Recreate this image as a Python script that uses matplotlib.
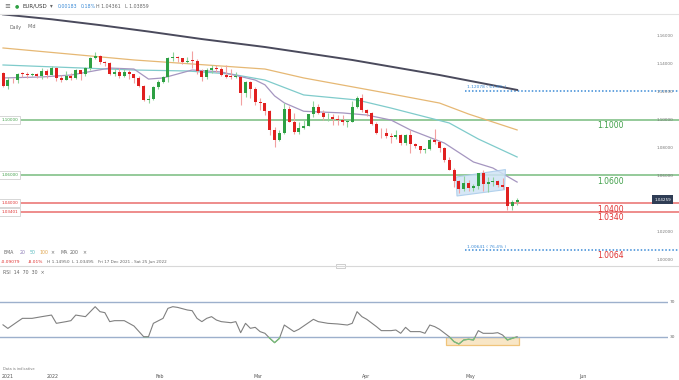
import numpy as np
import matplotlib.pyplot as plt
from matplotlib.patches import Polygon, Rectangle
from matplotlib.transforms import blended_transform_factory
from matplotlib.lines import Line2D

# daily candles, Fri 17 Dec 2021 .. Mon 16 May 2022 (trading-day index = position)
opens = [1.1331, 1.1240, 1.1283, 1.1281, 1.1329, 1.1327, 1.1320, 1.1328, 1.1312, 1.1350, 1.1323,
         1.1370, 1.1299, 1.1287, 1.1312, 1.1297, 1.1359, 1.1326, 1.1368, 1.1440, 1.1454, 1.1412,
         1.1408, 1.1324, 1.1345, 1.1312, 1.1344, 1.1326, 1.1301, 1.1243, 1.1144, 1.1146,
         1.1234, 1.1272, 1.1304, 1.1440, 1.1451, 1.1441, 1.1415, 1.1424, 1.1421, 1.1349, 1.1306,
         1.1358, 1.1372, 1.1361, 1.1321, 1.1309, 1.1306, 1.1308, 1.1190, 1.1271,
         1.1220, 1.1126, 1.1121, 1.1062, 1.0929, 1.0855, 1.0905, 1.1075, 1.0984, 1.0912, 1.0942,
         1.0956, 1.1037, 1.1094, 1.1051, 1.1016, 1.1017, 1.1005, 1.0996, 1.0984, 1.0985, 1.1090, 1.1158,
         1.1067, 1.1045, 1.0972, 1.0903, 1.0902, 1.0879, 1.0877, 1.0888, 1.0830, 1.0891, 1.0828,
         1.0808, 1.0780, 1.0790, 1.0851, 1.0838, 1.0797, 1.0713, 1.0640, 1.0560, 1.0500,
         1.0545, 1.0510, 1.0525, 1.0620, 1.0540, 1.0550, 1.0560, 1.0530, 1.0515, 1.0380, 1.04076]
highs = [1.1345, 1.1305, 1.1302, 1.1336, 1.1341, 1.1340, 1.1335, 1.1333, 1.1369, 1.1360, 1.1386,
         1.1376, 1.1321, 1.1347, 1.1333, 1.1365, 1.1359, 1.1375, 1.1446, 1.1482, 1.1465, 1.1420,
         1.1412, 1.1370, 1.1369, 1.1363, 1.1357, 1.1329, 1.1310, 1.1249, 1.1174, 1.1243,
         1.1283, 1.1316, 1.1450, 1.1483, 1.1453, 1.1445, 1.1448, 1.1495, 1.1433, 1.1365, 1.1368,
         1.1395, 1.1395, 1.1381, 1.1395, 1.1360, 1.1343, 1.1315, 1.1274, 1.1275,
         1.1233, 1.1152, 1.1121, 1.1069, 1.0946, 1.0925, 1.1121, 1.1095, 1.1044, 1.0980, 1.1005,
         1.1040, 1.1137, 1.1110, 1.1070, 1.1045, 1.1040, 1.1035, 1.1030, 1.0997, 1.1137, 1.1170, 1.1185,
         1.1076, 1.1052, 1.0985, 1.0938, 1.0937, 1.0905, 1.0922, 1.0900, 1.0900, 1.0925, 1.0835,
         1.0813, 1.0800, 1.0870, 1.0936, 1.0850, 1.0805, 1.0730, 1.0655, 1.0567, 1.0593,
         1.0570, 1.0540, 1.0620, 1.0641, 1.0590, 1.0590, 1.0570, 1.0578, 1.0520, 1.0420, 1.04361]
lows = [1.1235, 1.1222, 1.1262, 1.1262, 1.1305, 1.1302, 1.1310, 1.1297, 1.1295, 1.1300, 1.1320,
        1.1280, 1.1273, 1.1282, 1.1285, 1.1291, 1.1284, 1.1315, 1.1355, 1.1438, 1.1397, 1.1385,
        1.1318, 1.1315, 1.1300, 1.1307, 1.1289, 1.1264, 1.1235, 1.1136, 1.1121, 1.1140,
        1.1219, 1.1263, 1.1272, 1.1419, 1.1413, 1.1398, 1.1405, 1.1373, 1.1330, 1.1280, 1.1290,
        1.1336, 1.1340, 1.1312, 1.1300, 1.1289, 1.1296, 1.1106, 1.1160, 1.1155,
        1.1105, 1.1070, 1.1030, 1.0893, 1.0806, 1.0850, 1.0900, 1.0980, 1.0900, 1.0900, 1.0930,
        1.0955, 1.1020, 1.1040, 1.0995, 1.0988, 1.0965, 1.0960, 1.0965, 1.0945, 1.0985, 1.1080, 1.1055,
        1.1028, 1.0960, 1.0900, 1.0870, 1.0870, 1.0835, 1.0860, 1.0820, 1.0815, 1.0757, 1.0800,
        1.0760, 1.0757, 1.0780, 1.0825, 1.0770, 1.0697, 1.0635, 1.0515, 1.0470, 1.0490,
        1.0490, 1.0490, 1.0505, 1.0490, 1.0483, 1.0527, 1.0520, 1.0500, 1.0350, 1.0350, 1.03859]
closes = [1.1240, 1.1283, 1.1281, 1.1329, 1.1327, 1.1320, 1.1328, 1.1312, 1.1350, 1.1323, 1.1370,
          1.1299, 1.1287, 1.1312, 1.1297, 1.1359, 1.1326, 1.1368, 1.1440, 1.1454, 1.1412, 1.1408,
          1.1324, 1.1345, 1.1312, 1.1344, 1.1326, 1.1301, 1.1243, 1.1144, 1.1146, 1.1234,
          1.1272, 1.1304, 1.1440, 1.1451, 1.1441, 1.1415, 1.1424, 1.1421, 1.1349, 1.1306, 1.1358,
          1.1372, 1.1361, 1.1321, 1.1309, 1.1306, 1.1308, 1.1190, 1.1271, 1.1220,
          1.1126, 1.1121, 1.1062, 1.0929, 1.0855, 1.0905, 1.1075, 1.0984, 1.0912, 1.0942, 1.0956,
          1.1037, 1.1094, 1.1051, 1.1016, 1.1017, 1.1005, 1.0996, 1.0984, 1.0985, 1.1090, 1.1158, 1.1067,
          1.1045, 1.0972, 1.0903, 1.0902, 1.0879, 1.0877, 1.0888, 1.0830, 1.0891, 1.0828, 1.0808,
          1.0780, 1.0790, 1.0851, 1.0838, 1.0797, 1.0713, 1.0640, 1.0560, 1.0500, 1.0545,
          1.0510, 1.0525, 1.0620, 1.0540, 1.0550, 1.0560, 1.0530, 1.0515, 1.0380, 1.04076, 1.04259]

# moving averages (day index, price)
ema20_day = [0, 8, 14, 22, 27, 30, 33, 39, 45, 52, 54, 56, 58, 62, 70, 75, 80, 84, 91, 97, 101, 106]
ema20_val = [1.1299, 1.1306, 1.1320, 1.1370, 1.1363, 1.1291, 1.1299, 1.1356, 1.1342, 1.1284, 1.1250,
             1.1170, 1.1120, 1.1060, 1.1048, 1.1033, 1.0997, 1.0926, 1.0832, 1.0696, 1.0653, 1.0552]
ema50_day = [0, 27, 38, 47, 54, 62, 73, 80, 92, 98, 106]
ema50_val = [1.1392, 1.1356, 1.1349, 1.1327, 1.1284, 1.1177, 1.1141, 1.1083, 1.0976, 1.0861, 1.0732]
ema100_day = [0, 27, 54, 62, 79, 90, 96, 106]
ema100_val = [1.1514, 1.1428, 1.1363, 1.1299, 1.1191, 1.1119, 1.1040, 1.0926]
ma200_day = [0, 10, 20, 30, 41, 54, 72, 90, 106]
ma200_val = [1.1755, 1.1720, 1.1678, 1.1632, 1.1578, 1.1521, 1.1428, 1.1320, 1.1213]

# RSI(14)
rsi_day = [0, 1, 3, 4, 6, 8, 10, 11, 13, 14, 15, 17, 19, 20, 21, 22, 23, 25, 27, 29, 30, 31, 33, 34,
           35, 36, 38, 39, 40, 41, 42, 43, 44, 45, 47, 48, 49, 50, 51, 52, 53, 54, 55, 56, 57, 58,
           60, 61, 64, 65, 67, 69, 71, 72, 73, 74, 75, 77, 78, 80, 81, 82, 83, 84, 86, 87, 88, 89,
           90, 92, 93, 94, 95, 96, 97, 98, 99, 101, 102, 103, 104, 105, 106]
rsi_val = [44, 40, 47.6, 51.3, 51.3, 53.2, 55, 45.7, 47.6, 48.7, 55, 53.2, 64.4, 58.8, 57.7, 47.6,
           48.7, 48.7, 42.7, 30.7, 30.7, 45.7, 51.3, 62.5, 64.4, 63.6, 60.7, 59.9, 51.3, 47.6, 51.3,
           53.2, 49.4, 47.6, 46.4, 47.6, 35.2, 45.7, 40.1, 41.2, 36.4, 34.5, 28.9, 24, 28.9, 43.8,
           36.4, 39, 50.2, 47.6, 45.7, 45, 43.8, 45.7, 58.8, 53.2, 50.2, 42, 37.5, 37.5, 38.2, 34.5,
           41.2, 36.4, 36.4, 34.5, 43.8, 42, 39, 30.7, 25.1, 22.5, 27, 27.8, 27, 37.5, 34.5, 34.5,
           35.2, 32.6, 27, 28.9, 30.7]

# key levels
green_levels = [1.1000, 1.0600]
red_levels = [1.0400, 1.0340]
fib_levels = [1.12078, 1.00641]
fib_names = ["61.8%", "76.4%"]
price_ticks = [1.16, 1.14, 1.12, 1.10, 1.08, 1.06, 1.02, 1.00]
month_labels = ["2021", "2022", "Feb", "Mar", "Apr", "May", "Jun"]

W, H = 679, 380
fig = plt.figure(figsize=(W / 100, H / 100), dpi=100)
fig.patch.set_facecolor("white")


def fx(px):
    return px / W


def fy(py):
    return 1 - py / H


GREEN = "#3f9f48"
RED = "#e0302f"
BLUE = "#3a8ad6"
GREY = "#666666"

# ---- price panel
ax = fig.add_axes([0, fy(265), fx(650), fy(14) - fy(265)])
ax.set_xlim(-0.62, -0.62 + 650 / 4.85)
ax.set_ylim(0.99570, 1.17578)
for s in ax.spines.values():
    s.set_visible(False)
ax.tick_params(axis="x", length=0, labelbottom=False)
ax.yaxis.tick_right()
ax.set_yticks(price_ticks)
ax.set_yticklabels(["%.5f" % p for p in price_ticks])
ax.tick_params(axis="y", length=0, pad=5, labelsize=3, labelcolor="#777777")

n = len(closes)
days = np.arange(n)
o = np.array(opens)
c = np.array(closes)
up = c >= o
ax.vlines(days[up], np.array(lows)[up], np.array(highs)[up], color="#8fd39a", lw=0.8, zorder=3)
ax.vlines(days[~up], np.array(lows)[~up], np.array(highs)[~up], color="#f2a0a0", lw=0.8, zorder=3)
body = np.maximum(np.abs(c - o), 0.0004)
ax.bar(days[up], body[up], bottom=np.minimum(o, c)[up], width=0.62, color="#2ea043", zorder=4)
ax.bar(days[~up], body[~up], bottom=np.minimum(o, c)[~up], width=0.62, color="#e0201f", zorder=4)

ax.plot(ma200_day, ma200_val, color="#4a4a5c", lw=1.4, zorder=2)
ax.plot(ema100_day, ema100_val, color="#e6b874", lw=0.9, zorder=2)
ax.plot(ema50_day, ema50_val, color="#7fcbcb", lw=0.9, zorder=2)
ax.plot(ema20_day, ema20_val, color="#a596c0", lw=0.9, zorder=2)

# bear flag
ax.add_patch(Polygon([(93.4, 1.0588), (103.6, 1.0642), (103.4, 1.0497), (93.6, 1.0452)],
                     closed=True, facecolor="#cfe3f5", edgecolor="#a8cbea", lw=0.8,
                     alpha=0.85, zorder=2.5))

yx = blended_transform_factory(ax.transAxes, ax.transData)
for lev, col in [(green_levels[0], GREEN), (green_levels[1], GREEN),
                 (red_levels[0], RED), (red_levels[1], RED)]:
    ax.add_line(Line2D([0, 1.05], [lev, lev], transform=yx, color=col, lw=1.1,
                       alpha=0.7, clip_on=False, zorder=1))
    ax.text(0.002, lev, "%.5f" % (lev if lev != 1.0340 else 1.03401), transform=yx,
            fontsize=3, color=col, va="center", ha="left",
            bbox=dict(boxstyle="square,pad=0.5", fc="white", ec="#d0d0d0", lw=0.6), zorder=6)
    ax.annotate("%.4f" % lev, (122.5, lev), xytext=(0, -1), textcoords="offset points",
                fontsize=5.5, color=col, ha="left", va="top")

for lev, name in zip(fib_levels, fib_names):
    ax.add_line(Line2D([95.3, 140], [lev, lev], color=BLUE, lw=1.1, ls=(0, (1, 1.3)),
                       clip_on=False, zorder=1))
    ax.annotate("%.5f ( %s )" % (lev, name), (95.6, lev), xytext=(0, 1),
                textcoords="offset points", fontsize=3.2, color=BLUE, ha="left", va="bottom")
ax.annotate("%.4f" % fib_levels[1], (122.5, fib_levels[1]), xytext=(0, -1),
            textcoords="offset points", fontsize=5.5, color=RED, ha="left", va="top")

ax.annotate("%.5f" % closes[-1], (1, closes[-1]), xycoords=yx, xytext=(3, 0),
            textcoords="offset points", fontsize=3, color="white", ha="left", va="center",
            bbox=dict(boxstyle="square,pad=0.6", fc="#2f3d55", ec="none"), annotation_clip=False)

# ---- RSI panel
ax2 = fig.add_axes([0, fy(365), fx(668), fy(283) - fy(365)])
ax2.set_xlim(-0.62, -0.62 + 668 / 4.85)
ax2.set_ylim(-1.1, 91)
for s in ax2.spines.values():
    s.set_visible(False)
ax2.set_yticks([])
ax2.axhline(70, color="#9db0cc", lw=1.0)
ax2.axhline(30, color="#9db0cc", lw=1.0)
ax2.text(1.002, 70, "70", transform=blended_transform_factory(ax2.transAxes, ax2.transData),
         fontsize=3.2, color=GREY, va="center")
ax2.text(1.002, 30, "30", transform=blended_transform_factory(ax2.transAxes, ax2.transData),
         fontsize=3.2, color=GREY, va="center")
ax2.add_patch(Rectangle((91.3, 21), 15.1, 9, facecolor="#f8e6c6", edgecolor="#f0c47a", lw=0.9, zorder=1))
ax2.plot(rsi_day, rsi_val, color="#808080", lw=0.8, zorder=3)
low_line, = ax2.plot(rsi_day, rsi_val, color="#79c07a", lw=0.9, zorder=4)
clip = Rectangle((-5, -10), 200, 40, transform=ax2.transData, visible=False)
ax2.add_patch(clip)
low_line.set_clip_path(clip)

ax2.set_xticks([0.9, 10.3, 32.4, 52.6, 74.8, 96.3, 119.6])
ax2.set_xticklabels(month_labels)
ax2.tick_params(axis="x", length=0, pad=6.5, labelsize=3.4, labelcolor="#555555")

# ---- header / legends
fig.add_artist(Line2D([0, 1], [fy(14), fy(14)], color="#e3e3e3", lw=0.8))
fig.add_artist(Line2D([0, 1], [fy(266), fy(266)], color="#d8d8d8", lw=0.8))
fig.add_artist(Rectangle((fx(336), fy(268)), fx(9), fy(264) - fy(268), fc="white", ec="#bbbbbb", lw=0.5))

ty = fy(6)
fig.text(fx(4), ty, "≡", fontsize=5, color=GREY, va="center")
fig.text(fx(15), ty, "●", fontsize=3.5, color="#2ea043", va="center")
fig.text(fx(22), ty, "EUR/USD", fontsize=4, color="#333333", va="center")
fig.text(fx(50), ty, "▾", fontsize=4, color=GREY, va="center")
chg = closes[-1] - closes[-2]
fig.text(fx(58), ty, "%.5f" % chg, fontsize=3.4, color=BLUE, va="center")
fig.text(fx(81), ty, "%.2f%%" % (chg / closes[-2] * 100), fontsize=3.4, color=BLUE, va="center")
fig.text(fx(96), ty, "H %.5f" % highs[-1], fontsize=3.4, color=GREY, va="center")
fig.text(fx(125), ty, "L %.5f" % lows[-1], fontsize=3.4, color=GREY, va="center")
fig.text(fx(9), fy(27), "Daily", fontsize=3.4, color=GREY, va="center")
fig.text(fx(27), fy(27), "Mid", fontsize=3.4, color=GREY, va="center")

ly = fy(253)
fig.text(fx(3), ly, "EMA", fontsize=3.4, color=GREY, va="center")
fig.text(fx(20), ly, "20", fontsize=3.4, color="#8f7fb8", va="center")
fig.text(fx(30), ly, "50", fontsize=3.4, color="#5bbcc0", va="center")
fig.text(fx(39), ly, "100", fontsize=3.4, color="#e0a64f", va="center")
fig.text(fx(50), ly, "×", fontsize=3.4, color=GREY, va="center")
fig.text(fx(60), ly, "MA", fontsize=3.4, color=GREY, va="center")
fig.text(fx(70), ly, "200", fontsize=3.4, color=GREY, va="center")
fig.text(fx(82), ly, "×", fontsize=3.4, color=GREY, va="center")
ry = fy(262)
fig.text(fx(1), ry, "-0.09079", fontsize=3.2, color=RED, va="center")
fig.text(fx(28), ry, "-8.01%", fontsize=3.2, color=RED, va="center")
fig.text(fx(47), ry, "H 1.14950", fontsize=3.2, color=GREY, va="center")
fig.text(fx(72), ry, "L 1.03495", fontsize=3.2, color=GREY, va="center")
fig.text(fx(98), ry, "Fri 17 Dec 2021 - Sat 25 Jun 2022", fontsize=3.0, color=GREY, va="center")
fig.text(fx(3), fy(272), "RSI  14  70  30  ×", fontsize=3.4, color=GREY, va="center")
fig.text(fx(3), fy(369), "Data is indicative", fontsize=2.6, color="#777777", va="center")

fig.savefig("out.png", dpi=100)
